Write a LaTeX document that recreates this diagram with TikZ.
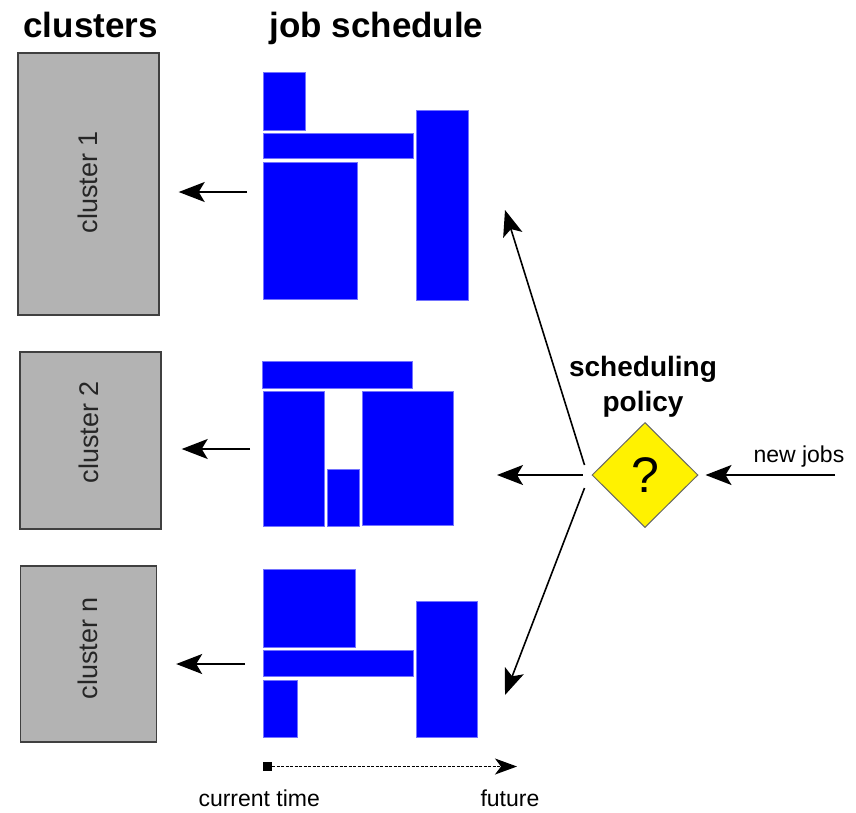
\documentclass[tikz,border=0pt]{standalone}
\usepackage{fontspec}
\setmainfont{Liberation Sans}
\usetikzlibrary{arrows.meta,shapes.geometric}

\definecolor{boxgray}{HTML}{B3B3B3}
\definecolor{edgegray}{HTML}{404040}
\definecolor{jobblue}{HTML}{0000FF}

\tikzset{
  cluster/.style={draw=edgegray, fill=boxgray, line width=1.4pt, inner sep=0pt},
  clabel/.style={rotate=90, text=black!85, font=\fontsize{27}{30}\selectfont},
  job/.style={fill=jobblue, draw=jobblue!55!white, line width=0.6pt},
  head/.style={font=\fontsize{35}{40}\selectfont\bfseries, anchor=base west},
  arr/.style={line width=1.6pt, -{Stealth[length=26pt, width=20pt, inset=6pt]}},
  small/.style={font=\fontsize{23}{26}\selectfont, anchor=base west}
}

\begin{document}
\begin{tikzpicture}[x=1pt, y=-1pt]
\useasboundingbox (0,0) rectangle (856,812);
% headers
\node[head] (hclu) at (20,37) {clusters};
\node[head] (hjob) at (266,37) {job schedule};
% clusters
\node[cluster, minimum width=141pt, minimum height=262pt] (c1) at (88.5,184) {};
\node[cluster, minimum width=141pt, minimum height=177pt] (c2) at (90.5,440.5) {};
\node[cluster, minimum width=136pt, minimum height=176pt] (c3) at (88.5,654) {};
\node[clabel] (l1) at (88,182) {cluster 1};
\node[clabel] (l2) at (89,432) {cluster 2};
\node[clabel] (l3) at (88,648) {cluster n};
% job blocks
\foreach \xa/\ya/\xb/\yb in {263/72/305/130, 263/133/413/158, 263/162/357/299, 416/110/468/300,
  262/361/412/388, 263/391/324/526, 327/469/359/526, 362/391/453/525,
  263/569/355/647, 263/650/413/676, 263/680/297/737, 416/601/477/737}
  \draw[job] (\xa,\ya) rectangle (\xb,\yb);
% schedule to cluster
\coordinate (s1) at (247,192);
\coordinate (s2) at (250,449);
\coordinate (s3) at (245,664);
\draw[arr, shorten >=19pt] (s1) -- (c1.east |- s1);
\draw[arr, shorten >=20pt] (s2) -- (c2.east |- s2);
\draw[arr, shorten >=19pt] (s3) -- (c3.east |- s3);
% policy
\node[diamond, draw=black!60, fill=yellow, line width=1pt, minimum width=106pt, minimum height=105pt, inner sep=0pt] (pol) at (645,475) {};
\node[font=\fontsize{50}{50}\selectfont] (q) at (pol.center) {?};
\node[font=\fontsize{28}{32}\selectfont\bfseries, anchor=base] (p1) at (643,376) {scheduling};
\node[font=\fontsize{28}{32}\selectfont\bfseries, anchor=base] (p2) at (643,411) {policy};
\coordinate (t1) at (505,210);
\coordinate (t2) at (497,475);
\coordinate (t3) at (505,695);
\draw[arr] ([xshift=-7pt, yshift=10pt]pol.west) -- (t1);
\draw[arr] ([xshift=-9pt]pol.west) -- (t2);
\draw[arr] ([xshift=-7pt, yshift=-13pt]pol.west) -- (t3);
% new jobs
\coordinate (nj) at (835,475);
\node[small] (njl) at (750,462) {new jobs};
\draw[arr, shorten >=7pt] (nj) -- (pol.east);
% time axis
\node[fill=black, minimum size=9pt, inner sep=0pt] (now) at (267.5,766.5) {};
\coordinate (fut) at (517,766.5);
\draw[line width=1.4pt, dash pattern=on 3pt off 1.5pt, -{Stealth[length=22pt, width=16pt, inset=6pt]}] (now) -- (fut);
\node[small] (ct) at (195,806) {current time};
\node[small] (ft) at (477,806) {future};
\end{tikzpicture}
\end{document}
